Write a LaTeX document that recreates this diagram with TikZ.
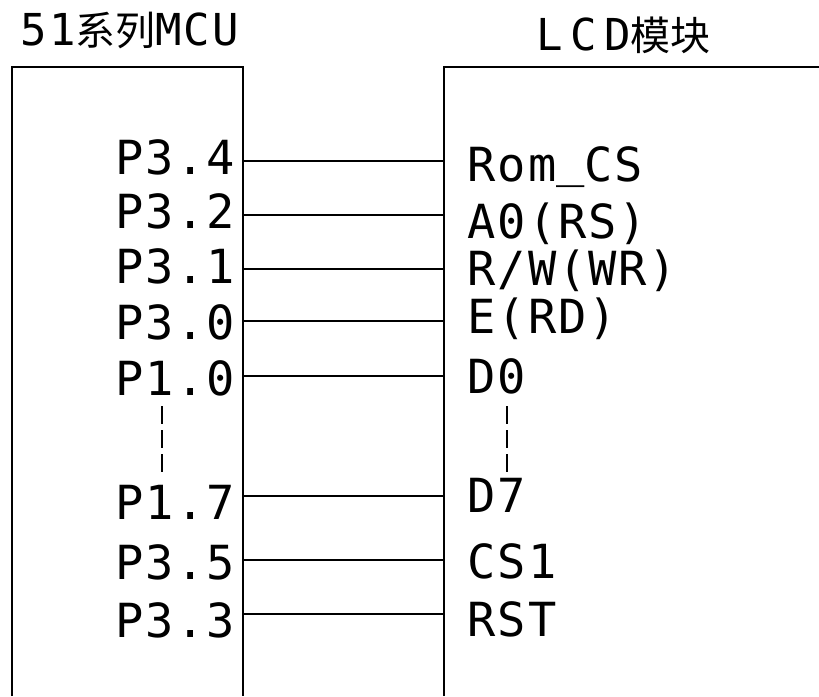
\documentclass[tikz,border=0pt]{standalone}
\usepackage{fontspec}
\setmainfont{DejaVu Sans Mono}[LetterSpace=4]
\newfontfamily\cjk{Noto Sans CJK SC}
\tikzset{
  lbl/.style={anchor=base west,inner sep=0pt,font=\fontsize{47}{52}\selectfont},
  ttl/.style={anchor=base west,inner sep=0pt,font=\fontsize{44}{50}\selectfont},
  dotline/.style={line width=1.4pt,dash pattern=on 18pt off 6pt}
}
\newcommand{\hz}[1]{{\cjk\fontsize{40}{44}\selectfont #1}}
\begin{document}
\begin{tikzpicture}[x=1pt,y=-1pt,line width=1.6pt]
\useasboundingbox (0,0) rectangle (819,696);
\path (12,696) coordinate (A) (12,67) coordinate (B) (243,67) coordinate (C) (243,696) coordinate (D)
(444,696) coordinate (E) (444,67) coordinate (F) (819,67) coordinate (G);
\draw (A)--(B)--(C)--(D) (E)--(F)--(G);
\node[ttl] (mcu) at (20,45) {51\hz{系列}MCU};
\node[ttl] (lcd) at (536,50) {L\,C\,D\hz{模块}};
\foreach \n/\y/\lb/\lt/\rb/\rt in {1/161/174/P3.4/181/Rom\raisebox{5pt}{\_}CS,2/215/228/P3.2/238/A0(RS),
  3/269/283/P3.1/285/{R/W(WR)},4/321/339/P3.0/333/E(RD),5/376/395/P1.0/393/D0,
  6/496/519/P1.7/512/D7,7/560/579/P3.5/578/CS1,8/614/637/P3.3/636/RST}
{
  \node[lbl] (mcu\n) at (115,\lb) {\lt};
  \node[lbl] (lcd\n) at (467,\rb) {\rt};
  \path (243,\y) coordinate (a\n) (444,\y) coordinate (b\n);
  \draw (a\n) -- (b\n);
}
\path (162,406) coordinate (d1) (162,472) coordinate (d2) (507,406) coordinate (d3) (507,472) coordinate (d4);
\draw[dotline] (d1) -- (d2) (d3) -- (d4);
\end{tikzpicture}
\end{document}
